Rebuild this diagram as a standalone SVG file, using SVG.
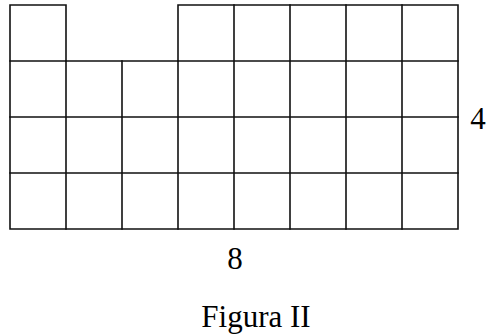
<svg xmlns="http://www.w3.org/2000/svg" width="488" height="336" viewBox="0 0 488 336">
<style>
.g{fill:none;stroke:#111;stroke-width:1.6;stroke-linecap:square}
.t{font-family:"Liberation Serif","Times New Roman",serif;font-size:31px;fill:#000;text-anchor:middle}
</style>
<rect width="488" height="336" fill="#fff"/>
<g id="grid">
<path class="g" d="M10,5H66V61M178,61V5H458V229H10V5"/>
<path class="g" d="M10,61H458M10,117H458M10,173H458"/>
<path class="g" d="M66,61V229M122,61V229M178,61V229M234,5V229M290,5V229M346,5V229M402,5V229"/>
</g>
<text class="t" x="478" y="129">4</text>
<text class="t" x="235" y="269">8</text>
<text class="t" x="256" y="327">Figura II</text>
</svg>
